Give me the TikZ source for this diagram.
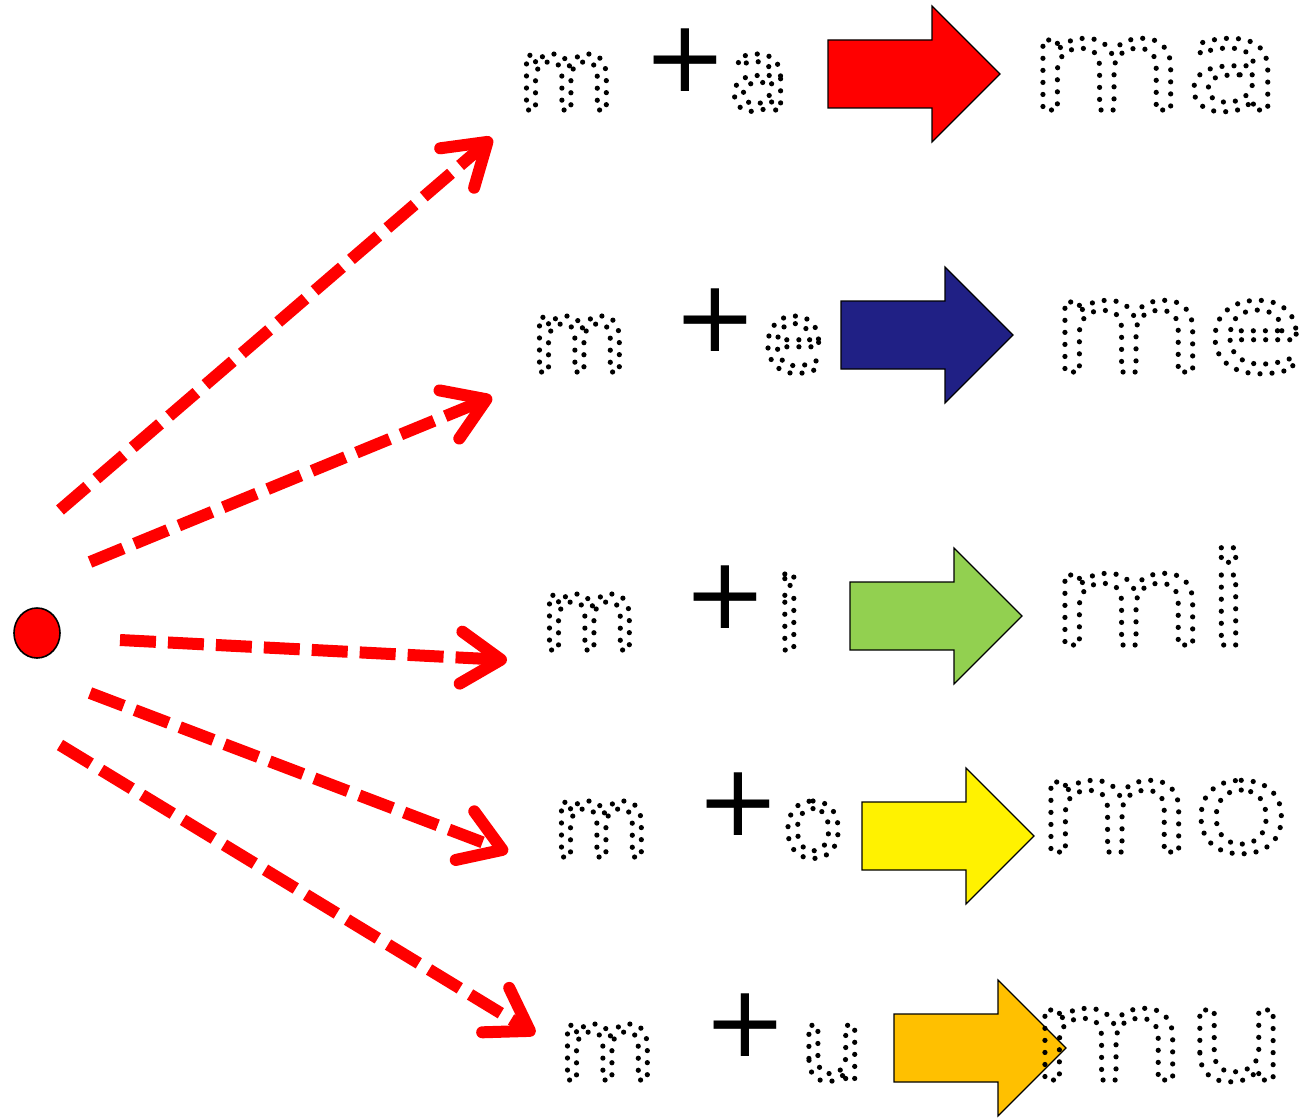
\documentclass[tikz,border=0pt]{standalone}
\usepackage{fontspec}
\setmainfont{DejaVu Sans}
\newfontfamily\widefont[FakeStretch=1.25]{DejaVu Sans}
\usetikzlibrary{arrows.meta,shapes.geometric}
\newcommand{\dotglyphs}{\special{pdf:literal direct 1 Tr [0 6] 0 d 1 J 2.6 w}}
\begin{document}
\begin{tikzpicture}[x=0.5pt,y=-0.5pt,
  dasharrow/.style={draw=red, line width=6pt, dash pattern=on 18pt off 6pt,
    -{Straight Barb[length=20pt,width=26pt,round]}},
  small/.style={inner sep=0pt, anchor=base west, font=\fontsize{50}{60}\selectfont\dotglyphs},
  plussign/.style={inner sep=0pt, anchor=center, font=\fontsize{50}{60}\selectfont},
  big/.style={inner sep=0pt, anchor=base west, font=\widefont\fontsize{64}{70}\selectfont\dotglyphs},
  blockline/.style={draw=black, line width=0.6pt, line join=miter}]
\useasboundingbox (0,0) rectangle (1305,1118);

% source dot
\node[draw=black, fill=red, ellipse, line width=0.8pt, minimum width=23pt, minimum height=25pt, inner sep=0pt] (src) at (37,633) {};

% connector ends
\coordinate (s1) at (60,510);  \coordinate (t1) at (492,138);
\coordinate (s2) at (90,562);  \coordinate (t2) at (492,397);
\coordinate (s3) at (120,640); \coordinate (t3) at (507,660);
\coordinate (s4) at (90,693);  \coordinate (t4) at (508,852);
\coordinate (s5) at (60,745);  \coordinate (t5) at (535,1034);
\draw[dasharrow] (s1) -- (t1);
\draw[dasharrow] (s2) -- (t2);
\draw[dasharrow] (s3) -- (t3);
\draw[dasharrow] (s4) -- (t4);
\draw[dasharrow] (s5) -- (t5);

% block arrows
\newcommand{\blockarrow}[3]{%
  \fill[#3] (#1,#2-34) -- (#1+104,#2-34) -- (#1+104,#2-68) -- (#1+172,#2)
    -- (#1+104,#2+68) -- (#1+104,#2+34) -- (#1,#2+34) -- cycle;
  \draw[blockline] (#1,#2-34) -- (#1+104,#2-34) -- (#1+104,#2-68) -- (#1+172,#2)
    -- (#1+104,#2+68) -- (#1+104,#2+34) -- (#1,#2+34) -- cycle;}
\definecolor{navyb}{HTML}{202085}
\definecolor{grn}{HTML}{92D050}
\definecolor{orng}{HTML}{FFC000}
\blockarrow{828}{74}{red}
\blockarrow{841}{335}{navyb}
\blockarrow{850}{616}{grn}
\blockarrow{862}{836}{yellow}
\blockarrow{894}{1048}{orng}

% row 1
\node[small] (m1) at (517,110) {m};
\node[plussign] (p1) at (685,60) {+};
\node[small] (v1) at (728,110) {a};
\node[big] (w1) at (1028,110) {ma};
% row 2
\node[small] (m2) at (530,372) {m};
\node[plussign] (p2) at (715,320) {+};
\node[small] (v2) at (762,372) {e};
\node[big] (w2) at (1050,372) {me};
% row 3
\node[small] (m3) at (540,650) {m};
\node[plussign] (p3) at (725,597) {+};
\node[small] (v3) at (775,650) {i};
\node[big] (w3) at (1050,645) {mi};
% row 4
\node[small] (m4) at (552,857) {m};
\node[plussign] (p4) at (738,804) {+};
\node[small] (v4) at (782,857) {o};
\node[big] (w4) at (1036,852) {mo};
% row 5
\node[small] (m5) at (558,1080) {m};
\node[plussign] (p5) at (745,1025) {+};
\node[small] (v5) at (800,1080) {u};
\node[big] (w5) at (1030,1080) {mu};
\end{tikzpicture}
\end{document}
